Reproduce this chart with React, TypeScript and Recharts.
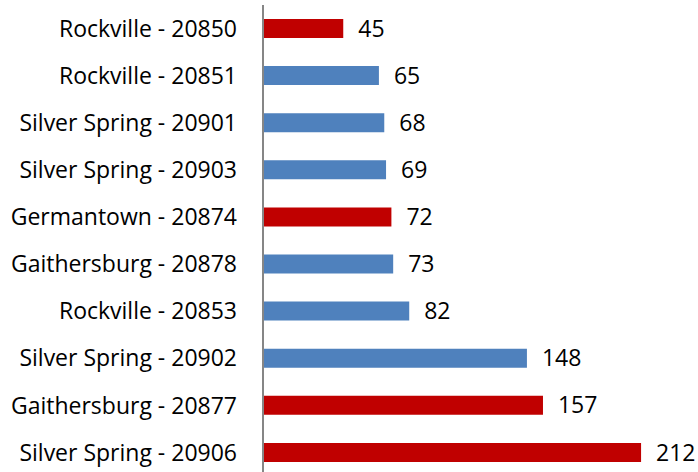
import React from 'react';
import { BarChart, Bar, XAxis, YAxis, Cell, LabelList } from 'recharts';

const categories = [
  'Rockville - 20850',
  'Rockville - 20851',
  'Silver Spring - 20901',
  'Silver Spring - 20903',
  'Germantown - 20874',
  'Gaithersburg - 20878',
  'Rockville - 20853',
  'Silver Spring - 20902',
  'Gaithersburg - 20877',
  'Silver Spring - 20906',
];

const counts = [45, 65, 68, 69, 72, 73, 82, 148, 157, 212];

const highlighted = ['Rockville - 20850', 'Germantown - 20874', 'Gaithersburg - 20877', 'Silver Spring - 20906'];

const RED = '#C00000';
const BLUE = '#4F81BD';
const FONT = '"Open Sans", sans-serif';

const data = categories.map((name, i) => ({ name, value: counts[i] }));

const App: React.FC = () => {
  return (
    <div style={{ position: 'absolute', left: 0, top: 0, width: 698, height: 472, overflow: 'hidden', background: '#fff' }}>
      <BarChart
        width={698}
        height={476}
        data={data}
        layout="vertical"
        margin={{ top: 5, right: 7, bottom: 0, left: 0 }}
      >
        <XAxis type="number" domain={[0, 240]} hide />
        <YAxis
          type="category"
          dataKey="name"
          width={263}
          tickLine={false}
          tickSize={0}
          tickMargin={26}
          axisLine={{ stroke: '#868686', strokeWidth: 2 }}
          tick={{ fill: '#000', fontSize: 23, fontFamily: FONT }}
          interval={0}
        />
        <Bar dataKey="value" barSize={19} isAnimationActive={false}>
          {data.map((d) => (
            <Cell key={d.name} fill={highlighted.includes(d.name) ? RED : BLUE} />
          ))}
          <LabelList
            dataKey="value"
            position="right"
            offset={15}
            fill="#000"
            style={{ fontSize: 23, fontFamily: FONT }}
          />
        </Bar>
      </BarChart>
    </div>
  );
};

export default App;
